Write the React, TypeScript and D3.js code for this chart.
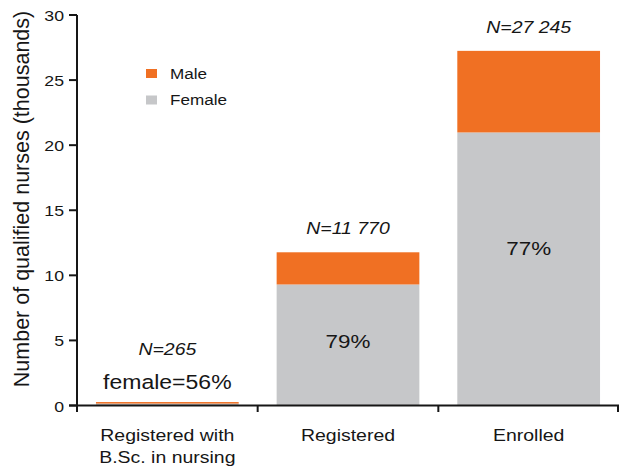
import React from "react";
import * as d3 from "d3";

const categories = ["Registered with\nB.Sc. in nursing", "Registered", "Enrolled"];
const totals = [0.265, 11.77, 27.245];
const femaleShare = [0.56, 0.79, 0.77];
const nLabels = ["N=265", "N=11 770", "N=27 245"];
const pctLabels = ["female=56%", "79%", "77%"];
const yTicks = [0, 5, 10, 15, 20, 25, 30];
const legendItems = ["Male", "Female"];

const W = 619;
const H = 470;
const FONT = "'Liberation Sans', Arial, Helvetica, sans-serif";
const ORANGE = "#F07023";
const GREY = "#C6C7C9";
const INK = "#161616";
const SX = 1.18;

const x = d3.scaleBand<string>().domain(categories).range([77, 619]).paddingInner(0.21).paddingOuter(0.105);
const y = d3.scaleLinear().domain([0, 30]).range([405.5, 15]);

// where the percentage label sits inside each bar (in data units)
const pctLabelValue = [null, 4.95, 12.1];

function SText(props: { x: number; y: number; size: number; anchor?: string; italic?: boolean; children: React.ReactNode }) {
  return (
    <g transform={`translate(${props.x},${props.y}) scale(${SX},1)`}>
      <text
        textAnchor={props.anchor || "middle"}
        fontSize={props.size}
        fontStyle={props.italic ? "italic" : "normal"}
        fontFamily={FONT}
        fill={INK}
      >
        {props.children}
      </text>
    </g>
  );
}

export default function App() {
  const step = x.step();
  const boundaries = [...categories.map((c) => (x(c) as number) - step * 0.105), 619];
  return (
    <svg width={W} height={H} style={{ position: "absolute", left: 0, top: 0 }}>
      <rect width={W} height={H} fill="#fff" />
      {/* bars */}
      {categories.map((c, i) => {
        const female = totals[i] * femaleShare[i];
        const bx = x(c) as number;
        const bw = x.bandwidth();
        return (
          <g key={c}>
            <rect x={bx} y={y(female)} width={bw} height={y(0) - y(female)} fill={GREY} />
            <rect x={bx} y={y(totals[i])} width={bw} height={y(female) - y(totals[i])} fill={ORANGE} />
          </g>
        );
      })}
      {/* axes */}
      <line x1={77} x2={77} y1={15} y2={412} stroke={INK} strokeWidth={2} />
      <line x1={69} x2={619} y1={405.5} y2={405.5} stroke={INK} strokeWidth={2} />
      {yTicks.map((t) => (
        <g key={t}>
          <line x1={69} x2={77} y1={y(t)} y2={y(t)} stroke={INK} strokeWidth={2} />
          <SText x={64} y={y(t) + 6} size={15} anchor="end">
            {t}
          </SText>
        </g>
      ))}
      {boundaries.map((b, i) => (
        <line key={i} x1={Math.min(b, 618)} x2={Math.min(b, 618)} y1={405.5} y2={412} stroke={INK} strokeWidth={2} />
      ))}
      {/* category labels */}
      {categories.map((c) => {
        const cx = (x(c) as number) + x.bandwidth() / 2;
        return c.split("\n").map((line, j) => (
          <SText key={c + j} x={cx} y={441 + j * 22} size={16.5}>
            {line}
          </SText>
        ));
      })}
      {/* N labels and percentages */}
      {categories.map((c, i) => {
        const cx = (x(c) as number) + x.bandwidth() / 2;
        const nY = i === 0 ? 355 : y(totals[i]) - 18;
        const pv = pctLabelValue[i];
        const pY = pv === null ? 389 : y(pv) + 7;
        return (
          <g key={"lab" + c}>
            <SText x={cx} y={nY} size={16.5} italic>
              {nLabels[i]}
            </SText>
            <SText x={cx} y={pY} size={i === 0 ? 19.5 : 19}>
              {pctLabels[i]}
            </SText>
          </g>
        );
      })}
      {/* legend */}
      {legendItems.map((l, i) => (
        <g key={l}>
          <rect x={146} y={69 + i * 26.5} width={11} height={9} fill={i === 0 ? ORANGE : GREY} />
          <SText x={170} y={78.5 + i * 26.5} size={14.5} anchor="start">
            {l}
          </SText>
        </g>
      ))}
      {/* y axis title */}
      <text
        transform={`translate(28.5,199) rotate(-90)`}
        textAnchor="middle"
        fontSize={21.5}
        fontFamily={FONT}
        fill={INK}
      >
        Number of qualified nurses (thousands)
      </text>
    </svg>
  );
}
